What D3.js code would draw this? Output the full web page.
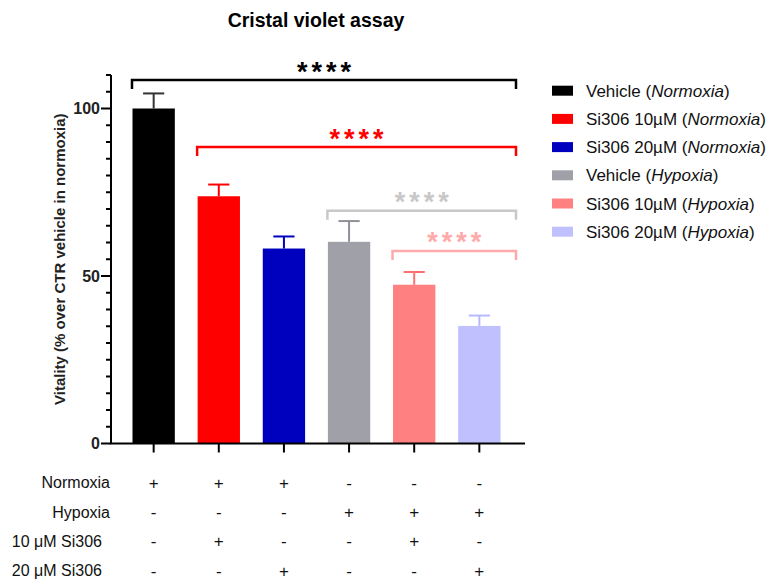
<!DOCTYPE html>
<html>
<head>
<meta charset="utf-8">
<script src="https://cdn.jsdelivr.net/npm/d3@7"></script>
<style>
  body { margin: 0; background: #fff; }
  text { font-family: "Liberation Sans", Arial, sans-serif; }
</style>
</head>
<body>
<div id="chart"></div>
<script>
// data
const groups = ["Vehicle (Normoxia)", "Si306 10µM (Normoxia)", "Si306 20µM (Normoxia)",
                "Vehicle (Hypoxia)", "Si306 10µM (Hypoxia)", "Si306 20µM (Hypoxia)"]
const legendMain = ["Vehicle", "Si306 10µM", "Si306 20µM", "Vehicle", "Si306 10µM", "Si306 20µM"]
const legendCond = ["Normoxia", "Normoxia", "Normoxia", "Hypoxia", "Hypoxia", "Hypoxia"]
const means = [100, 73.8, 58.2, 60.2, 47.4, 35.1]
const errors = [4.5, 3.5, 3.6, 6.2, 3.8, 3.1]
const colors = ["#000000", "#ff0000", "#0000bf", "#a0a0a8", "#ff8080", "#c0c0ff"]
const errColors = ["#333333", "#ff0000", "#0000bf", "#909098", "#ff7070", "#b8b8ff"]
const yTicks = [0, 50, 100]

const rowLabels = ["Normoxia", "Hypoxia", "10 \u03bcM Si306", "20 \u03bcM Si306"]
const rowSigns = [
    ["+", "+", "+", "-", "-", "-"],
    ["-", "-", "-", "+", "+", "+"],
    ["-", "+", "-", "-", "+", "-"],
    ["-", "-", "+", "-", "-", "+"]
]

// significance brackets: from group index to right end, value level
const sigFrom = [0, 1, 3, 4]
const sigLevel = [108.5, 88.5, 69.5, 57.5]
const sigText = ["****", "****", "****", "****"]
const sigColors = ["#000000", "#ff0000", "#c8c8c8", "#ffaaaa"]

const width = 768
const height = 581
const margin = {top: 75, left: 111, bottom: 137, right: 243}

const svg = d3.select("#chart").append("svg")
    .attr("width", width)
    .attr("height", height)

const x = d3.scaleBand()
    .domain(groups)
    .range([margin.left, 522])
    .paddingInner(0.35)
    .paddingOuter(0.33)

const y = d3.scaleLinear()
    .domain([0, 110])
    .range([443.5, margin.top])

// title
svg.append("text")
    .attr("x", 316)
    .attr("y", 27)
    .attr("text-anchor", "middle")
    .style("font-size", "19.5px")
    .style("font-weight", "bold")
    .text("Cristal violet assay")

// y label
svg.append("text")
    .attr("transform", "translate(65," + y(55) + ") rotate(-90)")
    .attr("text-anchor", "middle")
    .style("font-size", "15px")
    .style("font-weight", "bold")
    .style("fill", "#222")
    .text("Vitality (% over CTR vehicle in normoxia)")

// bars
svg.append("g")
    .selectAll("rect")
    .data(means)
    .enter()
    .append("rect")
    .attr("x", (d, i) => x(groups[i]))
    .attr("width", x.bandwidth())
    .attr("y", d => y(d))
    .attr("height", d => y(0) - y(d))
    .attr("fill", (d, i) => colors[i])

// error bars (upper only)
const eb = svg.append("g")
    .selectAll("g")
    .data(means)
    .enter()
    .append("g")
    .attr("stroke", (d, i) => errColors[i])
    .attr("stroke-width", 2)

eb.append("line")
    .attr("x1", (d, i) => x(groups[i]) + x.bandwidth() / 2)
    .attr("x2", (d, i) => x(groups[i]) + x.bandwidth() / 2)
    .attr("y1", d => y(d))
    .attr("y2", (d, i) => y(d + errors[i]))

eb.append("line")
    .attr("x1", (d, i) => x(groups[i]) + x.bandwidth() / 4)
    .attr("x2", (d, i) => x(groups[i]) + x.bandwidth() * 3 / 4)
    .attr("y1", (d, i) => y(d + errors[i]))
    .attr("y2", (d, i) => y(d + errors[i]))

// y axis
const yAxis = svg.append("g")
    .attr("transform", "translate(" + margin.left + ",0)")

yAxis.append("line")
    .attr("x1", 0).attr("x2", 0)
    .attr("y1", y(0)).attr("y2", y(110))
    .attr("stroke", "#000").attr("stroke-width", 2)

yAxis.selectAll("line.minor")
    .data(d3.range(0, 111, 5))
    .enter()
    .append("line")
    .attr("class", "minor")
    .attr("x1", d => yTicks.includes(d) ? -10 : -5)
    .attr("x2", 0)
    .attr("y1", d => y(d)).attr("y2", d => y(d))
    .attr("stroke", "#000").attr("stroke-width", 2)

yAxis.selectAll("text")
    .data(yTicks)
    .enter()
    .append("text")
    .attr("x", -11)
    .attr("y", d => y(d))
    .attr("dy", "0.36em")
    .attr("text-anchor", "end")
    .style("font-size", "16px")
    .style("font-weight", "bold")
    .style("fill", "#222")
    .text(d => d)

// x axis
svg.append("line")
    .attr("x1", margin.left - 1).attr("x2", 525)
    .attr("y1", y(0)).attr("y2", y(0))
    .attr("stroke", "#000").attr("stroke-width", 2)

svg.append("g")
    .selectAll("line")
    .data(groups)
    .enter()
    .append("line")
    .attr("x1", d => x(d) + x.bandwidth() / 2)
    .attr("x2", d => x(d) + x.bandwidth() / 2)
    .attr("y1", y(0)).attr("y2", y(0) + 9)
    .attr("stroke", "#000").attr("stroke-width", 2)

// condition table
const rowY = [482.5, 512, 541, 570.5]
const rowLabelX = [110, 110, 102, 102]
const table = svg.append("g")
rowLabels.forEach((label, r) => {
    table.append("text")
        .attr("x", rowLabelX[r])
        .attr("y", rowY[r])
        .attr("dy", "0.36em")
        .attr("text-anchor", "end")
        .style("font-size", "16px")
        .style("fill", "#111")
        .text(label)
    table.selectAll("text.s" + r)
        .data(rowSigns[r])
        .enter()
        .append("text")
        .attr("class", "s" + r)
        .attr("x", (d, i) => x(groups[i]) + x.bandwidth() / 2)
        .attr("y", rowY[r])
        .attr("dy", "0.36em")
        .attr("text-anchor", "middle")
        .style("font-size", "17px")
        .style("fill", "#111")
        .text(d => d)
})

// significance brackets
const bracketRight = 516
const br = svg.append("g")
sigFrom.forEach((from, k) => {
    const x0 = x(groups[from]) - 0.5
    const yy = y(sigLevel[k])
    br.append("path")
        .attr("d", "M" + x0 + "," + (yy + 9) + "V" + yy + "H" + bracketRight + "V" + (yy + 9))
        .attr("fill", "none")
        .attr("stroke", sigColors[k])
        .attr("stroke-width", 2.5)
    br.append("text")
        .attr("x", (x0 + bracketRight) / 2 + 2)
        .attr("y", yy + 0.5)
        .attr("text-anchor", "middle")
        .style("font-size", "27px")
        .style("font-weight", "bold")
        .style("letter-spacing", "4px")
        .style("fill", sigColors[k])
        .text(sigText[k])
})

// legend
const legend = svg.append("g")
    .selectAll("g")
    .data(legendMain)
    .enter()
    .append("g")
    .attr("transform", (d, i) => "translate(552," + (90.7 + i * 28.2) + ")")

legend.append("rect")
    .attr("x", 0).attr("y", -5)
    .attr("width", 21).attr("height", 10)
    .attr("fill", (d, i) => colors[i])

const lt = legend.append("text")
    .attr("x", 34)
    .attr("dy", "0.36em")
    .style("font-size", "17px")
    .style("fill", "#111")

lt.append("tspan").text(d => d + " (")
lt.append("tspan").style("font-style", "italic").text((d, i) => legendCond[i])
lt.append("tspan").text(")")
</script>
</body>
</html>
